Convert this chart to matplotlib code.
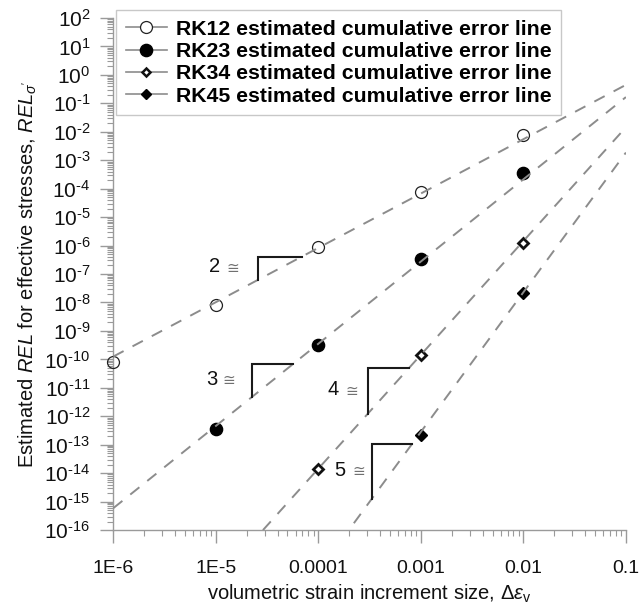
import numpy as np
import matplotlib
matplotlib.use("Agg")
import matplotlib.pyplot as plt
from matplotlib.lines import Line2D
from matplotlib.ticker import FixedLocator, FixedFormatter, LogLocator, NullFormatter

plt.rcParams['font.family'] = ['Liberation Sans', 'DejaVu Sans']
plt.rcParams['mathtext.fontset'] = 'custom'
plt.rcParams['mathtext.rm'] = 'Liberation Sans'
plt.rcParams['mathtext.it'] = 'Liberation Sans:italic'
plt.rcParams['mathtext.bf'] = 'Liberation Sans:bold'

# strain increments and estimated REL for each scheme
dx_rk12 = [1e-6, 1e-5, 1e-4, 1e-3, 1e-2]
rel_rk12 = [8.2e-11, 8.1e-9, 8.7e-7, 7.8e-5, 7.7e-3]
dx_rk23 = [1e-5, 1e-4, 1e-3, 1e-2]
rel_rk23 = [3.5e-13, 3.2e-10, 3.5e-7, 3.5e-4]
dx_rk34 = [1e-4, 1e-3, 1e-2]
rel_rk34 = [1.35e-14, 1.4e-10, 1.2e-6]
dx_rk45 = [1e-3, 1e-2]
rel_rk45 = [2.2e-13, 2.1e-8]

# cumulative error lines: REL = 10**logc * dx**order
line_order = [1.91, 2.89, 4.0, 4.91]
line_logc = [1.56, 2.11, 2.16, 2.18]
# slope triangles: left / right log10(dx) of each triangle
tri_left = [-4.588, -4.647, -3.52, -3.478]
tri_right = [-4.16, -4.247, -3.118, -3.089]
tri_text = ["2", "3", "4", "5"]
# label offsets (points) left of each triangle: digit, symbol
tri_num_off = [-31, -29, -25, -23]
tri_sym_off = [-18, -16.5, -11.5, -9.5]

labels = ["RK12 estimated cumulative error line",
          "RK23 estimated cumulative error line",
          "RK34 estimated cumulative error line",
          "RK45 estimated cumulative error line"]
xticks = [1e-6, 1e-5, 1e-4, 1e-3, 1e-2, 1e-1]
xticklabels = ["1E-6", "1E-5", "0.0001", "0.001", "0.01", "0.1"]
yexp = list(range(-16, 3))


def ylab(e):
    if e < 0:
        return "$10^{\u2010%d}$" % (-e)
    return "$10^{%d}$" % e


fig = plt.figure(figsize=(6.4, 6.1), dpi=100)
ax = fig.add_axes([0.177, 0.131, 0.801, 0.8395])
ax.set_xscale('log')
ax.set_yscale('log')
ax.set_xlim(1e-6, 1e-1)
ax.set_ylim(1e-16, 1e2)

axis_grey = '#9a9a9a'
dash_grey = '#8c8c8c'

# fitted lines, drawn over the markers
xx = np.array([1e-6, 1e-1])
for p, c in zip(line_order, line_logc):
    ax.plot(xx, 10 ** c * xx ** p, color=dash_grey, lw=1.4,
            dashes=(6.0, 5.2), zorder=4, solid_capstyle='butt')

ax.plot(dx_rk12, rel_rk12, ls='none', marker='o', ms=8.6, mfc='none',
        mec='#222222', mew=0.9, zorder=3, clip_on=False)
ax.plot(dx_rk23, rel_rk23, ls='none', marker='o', ms=8.8, mfc='black',
        mec='black', zorder=3, clip_on=False)
ax.plot(dx_rk34, rel_rk34, ls='none', marker='D', ms=5.2, mfc='none',
        mec='#111111', mew=2.0, zorder=3, clip_on=False)
ax.plot(dx_rk45, rel_rk45, ls='none', marker='D', ms=6.4, mfc='black',
        mec='black', zorder=3, clip_on=False)

# slope triangles with their order labels
for p, c, a, b, t, on, so in zip(line_order, line_logc, tri_left, tri_right,
                                 tri_text, tri_num_off, tri_sym_off):
    xa, xb = 10 ** a, 10 ** b
    ya, yb = 10 ** c * xa ** p, 10 ** c * xb ** p
    ax.plot([xa, xa, xb], [ya, yb, yb], color='#1a1a1a', lw=1.5, zorder=5,
            solid_joinstyle='miter')
    ymid = np.sqrt(ya * yb)
    ax.annotate(t, (xa, ymid), xytext=(on, 1), textcoords='offset points',
                ha='center', va='center', fontsize=14.5, color='#111111')
    ax.annotate("\u2245", (xa, ymid), xytext=(so, 0), textcoords='offset points',
                ha='center', va='center', fontsize=11, color='#707070',
                family=['DejaVu Sans'])

for s in ['top', 'right']:
    ax.spines[s].set_visible(False)
for s in ['left', 'bottom']:
    ax.spines[s].set_color(axis_grey)
    ax.spines[s].set_linewidth(1.0)

ax.xaxis.set_major_locator(FixedLocator(xticks))
ax.xaxis.set_major_formatter(FixedFormatter(xticklabels))
ax.xaxis.set_minor_locator(LogLocator(base=10, subs=np.arange(2, 10), numticks=20))
ax.xaxis.set_minor_formatter(NullFormatter())
ax.yaxis.set_major_locator(FixedLocator([10.0 ** e for e in yexp]))
ax.yaxis.set_major_formatter(FixedFormatter([ylab(e) for e in yexp]))
ax.yaxis.set_minor_locator(LogLocator(base=10, subs=np.arange(2, 10), numticks=40))
ax.yaxis.set_minor_formatter(NullFormatter())

ax.tick_params(which='major', direction='out', length=9.5, width=1.0,
               color=axis_grey, labelsize=14, labelcolor='#111111')
ax.tick_params(axis='y', which='major', labelsize=15, pad=7)
ax.tick_params(axis='x', which='major', pad=12)
ax.tick_params(which='minor', direction='out', length=4.5, width=0.8,
               color=axis_grey)

ax.set_xlabel(r"volumetric strain increment size, $\Delta\varepsilon_\mathrm{v}$",
              fontsize=14.5, color='#111111', labelpad=4)
ax.set_ylabel(r"Estimated $\mathit{REL}$ for effective stresses, $\mathit{REL}_{\sigma'}$",
              fontsize=14.5, color='#111111', labelpad=6)
ax.yaxis.set_label_coords(-0.145, 0.5)

handles = [
    Line2D([], [], color=dash_grey, lw=1.2, marker='o', ms=8.6, mfc='white', mec='#222222', mew=0.9),
    Line2D([], [], color=dash_grey, lw=1.2, marker='o', ms=8.8, mfc='black', mec='black'),
    Line2D([], [], color=dash_grey, lw=1.2, marker='D', ms=4.5, mfc='white', mec='#111111', mew=1.8),
    Line2D([], [], color=dash_grey, lw=1.2, marker='D', ms=5.5, mfc='black', mec='black'),
]
leg = fig.legend(handles, labels, loc='upper left', bbox_to_anchor=(116 / 640, 1 - 10 / 610),
                 prop={'weight': 'bold', 'size': 15.3}, frameon=True, fancybox=False,
                 edgecolor='#bbbbbb', handlelength=1.95, handletextpad=0.4,
                 labelspacing=0.16, borderpad=0.45, borderaxespad=0)
leg.get_frame().set_linewidth(1.0)

fig.savefig("out.png", dpi=100, facecolor='white')
